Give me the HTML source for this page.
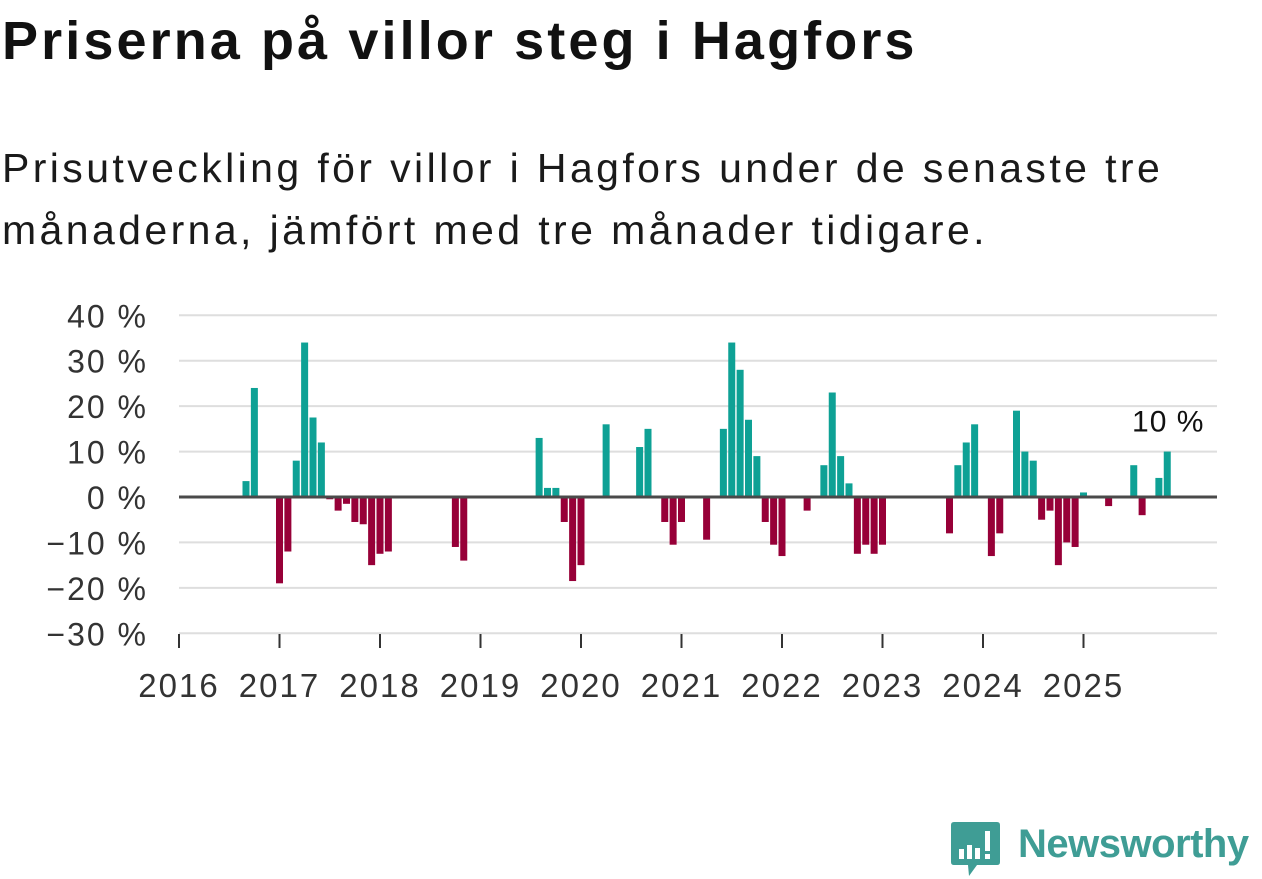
<!DOCTYPE html>
<html><head><meta charset="utf-8">
<style>
body{margin:0;width:1262px;height:879px;background:#fff;overflow:hidden;font-family:"Liberation Sans",sans-serif;color:#111;position:relative}
#title{position:absolute;left:2px;top:10px;font-size:54px;font-weight:bold;margin:0;letter-spacing:3.1px;white-space:nowrap}
#subtitle{position:absolute;left:2px;top:137px;font-size:41px;line-height:62px;margin:0;color:#1a1a1a;letter-spacing:3.4px;white-space:nowrap}
svg{position:absolute;left:0;top:0}
</style></head><body>
<h1 id="title">Priserna på villor steg i Hagfors</h1>
<p id="subtitle">Prisutveckling för villor i Hagfors under de senaste tre<br>månaderna, jämfört med tre månader tidigare.</p>
<svg id="chart" width="1262" height="879"></svg>
<div style="position:absolute;left:951px;top:820px;width:310px;height:58px">
<svg width="50" height="58" style="position:absolute;left:0;top:0">
<path d="M3 2 H46 Q49 2 49 5 V42 Q49 45 46 45 H26 L18 56 L17 45 H3 Q0 45 0 42 V5 Q0 2 3 2Z" fill="#3f9d95"/>
<rect x="8" y="29" width="5" height="10" fill="#fff"/><rect x="16" y="25" width="5" height="14" fill="#fff"/><rect x="24" y="28" width="5" height="11" fill="#fff"/><rect x="34" y="11" width="5" height="20" fill="#fff"/><rect x="34" y="34" width="5" height="5" fill="#fff"/>
</svg>
<div style="position:absolute;left:67px;top:2px;font-size:40px;font-weight:bold;color:#3f9d95;letter-spacing:-0.5px">Newsworthy</div>
</div>
<script>
const years=["2016","2017","2018","2019","2020","2021","2022","2023","2024","2025"];
const yTicks=[40,30,20,10,0,-10,-20,-30];
const monthIdx=[8,9,12,13,14,15,16,17,18,19,20,21,22,23,24,25,33,34,43,44,45,46,47,48,51,55,56,58,59,60,63,65,66,67,68,69,70,71,72,75,77,78,79,80,81,82,83,84,92,93,94,95,97,98,100,101,102,103,104,105,106,107,108,111,114,115,117,118];
const values=[3.5,24,-19,-12,8,34,17.5,12,-0.5,-3,-1.5,-5.5,-6,-15,-12.5,-12,-11,-14,13,2,2,-5.5,-18.5,-15,16,11,15,-5.5,-10.5,-5.5,-9.4,15,34,28,17,9,-5.5,-10.5,-13,-3,7,23,9,3,-12.5,-10.5,-12.5,-10.5,-8,7,12,16,-13,-8,19,10,8,-5,-3,-15,-10,-11,1,-2,7,-4,4.2,10];
const ns="http://www.w3.org/2000/svg";
const svg=document.getElementById('chart');
const x0=179,step=100.5/12,y0=497,unit=4.543,xEnd=1217;
function xS(i){return x0+i*step;}
function yS(v){return y0-v*unit;}
function mk(t,a){const e=document.createElementNS(ns,t);for(const k in a)e.setAttribute(k,a[k]);svg.appendChild(e);return e;}
yTicks.forEach(t=>{
  if(t!==0){const g=mk('line',{x1:x0,x2:xEnd,y1:yS(t),y2:yS(t),stroke:'#dedede','stroke-width':2});
  
  }
  const l=mk('text',{x:148,y:yS(t)+12,'text-anchor':'end','font-size':32,'letter-spacing':2,fill:'#333','font-family':'Liberation Sans, sans-serif'});
  l.textContent=(t<0?'\u2212'+(-t):t)+' %';
  
  
});
years.forEach((y,k)=>{
  const x=xS(k*12);
  const t=mk('line',{x1:x,x2:x,y1:634,y2:648,stroke:'#333','stroke-width':2});
  
  
  const l=mk('text',{x:x,y:697,'text-anchor':'middle','font-size':33,'letter-spacing':2,fill:'#333','font-family':'Liberation Sans, sans-serif'});
  l.textContent=y;
  
  
});
const bw=7;
values.forEach((v,j)=>{
  const x=xS(monthIdx[j])-bw/2;
  const r=mk('rect',{x:x,y:Math.min(yS(v),y0),width:bw,height:Math.abs(v)*unit,fill:v>=0?'#0ea195':'#970038'});
  
  
});
const z=mk('line',{x1:x0,x2:xEnd,y1:y0,y2:y0,stroke:'#4a4a4a','stroke-width':3});


const lastI=values.length-1;
const lab=mk('text',{x:xS(monthIdx[lastI])+1,y:yS(values[lastI])-20,'text-anchor':'middle','font-size':30,'letter-spacing':1,fill:'#111','font-family':'Liberation Sans, sans-serif'});
lab.textContent=Math.round(values[lastI])+' %';


</script>
</body></html>
